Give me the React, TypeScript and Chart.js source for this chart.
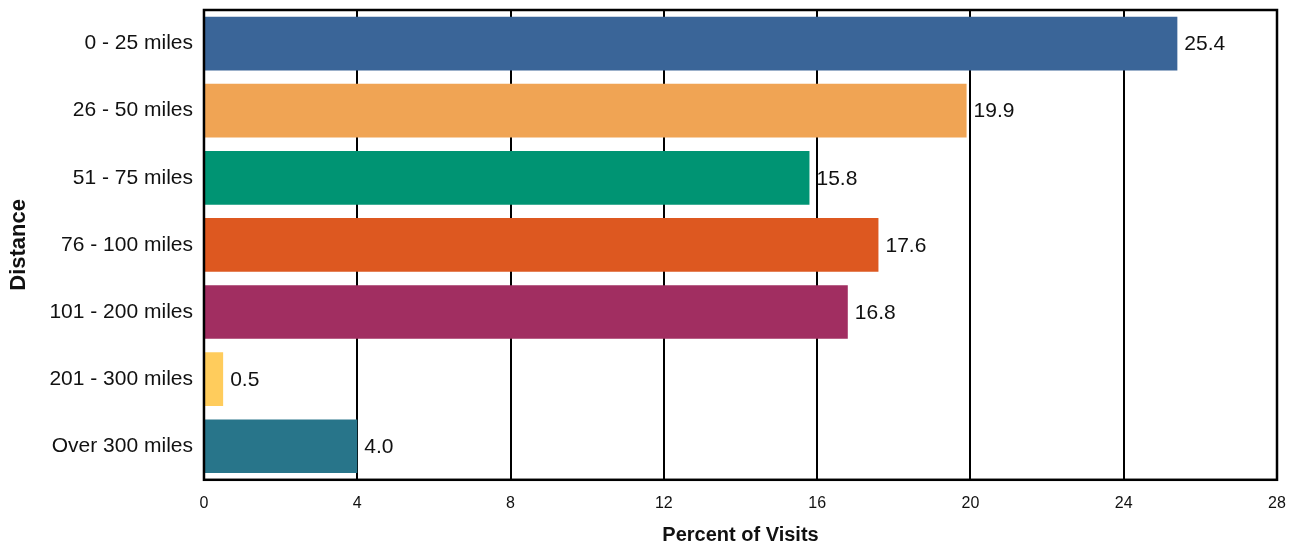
import React, { useEffect, useRef } from "react";
import { Chart, registerables } from "chart.js";

Chart.register(...registerables);

const categories = [
  "0 - 25 miles",
  "26 - 50 miles",
  "51 - 75 miles",
  "76 - 100 miles",
  "101 - 200 miles",
  "201 - 300 miles",
  "Over 300 miles",
];
const values = [25.4, 19.9, 15.8, 17.6, 16.8, 0.5, 4.0];
const barColors = ["#3A6598", "#F0A454", "#009473", "#DD5820", "#A12E61", "#FFCC5C", "#28758A"];
const xTicks = [0, 4, 8, 12, 16, 20, 24, 28];

const FONT = "'Liberation Sans', Arial, sans-serif";

const labelPlugin = {
  id: "valueLabels",
  afterDatasetsDraw(chart: any) {
    const ctx = chart.ctx;
    const meta = chart.getDatasetMeta(0);
    ctx.save();
    ctx.font = `21px ${FONT}`;
    ctx.fillStyle = "#111";
    ctx.textAlign = "left";
    ctx.textBaseline = "middle";
    meta.data.forEach((bar: any, i: number) => {
      ctx.fillText(values[i].toFixed(1), bar.x + 7, bar.y + 1);
    });
    ctx.restore();
  },
};

const framePlugin = {
  id: "frame",
  afterDraw(chart: any) {
    const { ctx, chartArea } = chart;
    ctx.save();
    ctx.strokeStyle = "#000";
    ctx.lineWidth = 2.5;
    ctx.strokeRect(chartArea.left, chartArea.top, chartArea.right - chartArea.left, chartArea.bottom - chartArea.top);
    ctx.restore();
  },
};

export default function App() {
  const ref = useRef<HTMLCanvasElement>(null);
  useEffect(() => {
    if (!ref.current) return;
    const chart = new Chart(ref.current, {
      type: "bar",
      data: {
        labels: categories,
        datasets: [
          {
            data: values,
            backgroundColor: barColors,
            borderWidth: 0,
            barPercentage: 0.8,
            categoryPercentage: 1,
          },
        ],
      },
      options: {
        indexAxis: "y",
        animation: false,
        responsive: true,
        maintainAspectRatio: false,
        layout: { padding: { top: 10, right: 18, bottom: -2, left: 6 } },
        plugins: {
          legend: { display: false },
          tooltip: { enabled: false },
        },
        scales: {
          x: {
            min: 0,
            max: 28,
            afterBuildTicks(axis: any) {
              axis.ticks = xTicks.map((v) => ({ value: v }));
            },
            afterFit(axis: any) {
              axis.paddingRight = 0;
              axis.paddingLeft = 0;
            },
            grid: { color: "#000", lineWidth: 2, drawTicks: false },
            border: { display: false },
            ticks: { color: "#111", font: { family: FONT, size: 16 }, padding: 14 },
            title: {
              display: true,
              text: "Percent of Visits",
              color: "#111",
              font: { family: FONT, size: 20, weight: "bold" },
              padding: { top: -4, bottom: 0 },
            },
          },
          y: {
            afterFit(axis: any) {
              axis.paddingTop = 0;
              axis.paddingBottom = 0;
            },
            grid: { display: false, drawTicks: false },
            border: { display: false },
            ticks: { color: "#111", font: { family: FONT, size: 21 }, padding: 11 },
            title: {
              display: true,
              text: "Distance",
              color: "#111",
              font: { family: FONT, size: 22, weight: "bold" },
              padding: { top: 0, bottom: 6 },
            },
          },
        },
      },
      plugins: [labelPlugin, framePlugin],
    });
    return () => chart.destroy();
  }, []);
  return (
    <div style={{ position: "fixed", left: 0, top: 0, width: 1295, height: 545, background: "#fff" }}>
      <canvas ref={ref} />
    </div>
  );
}
